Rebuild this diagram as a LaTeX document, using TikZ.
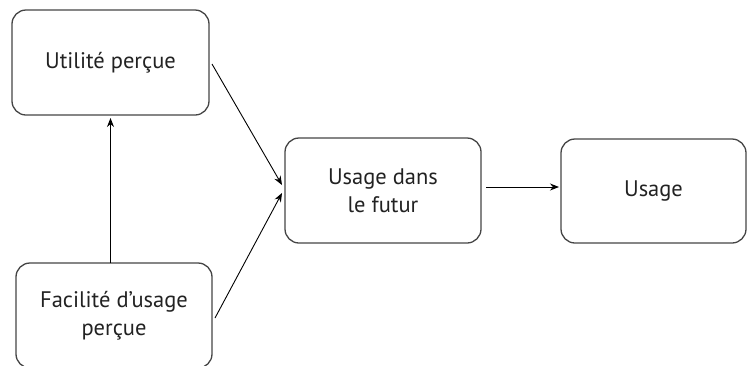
\documentclass[tikz,border=0pt]{standalone}
\usepackage{fontspec}
\setmainfont{PT Sans}
\usetikzlibrary{arrows.meta}
\definecolor{boxline}{HTML}{454545}
\definecolor{txt}{HTML}{222222}
\begin{document}
\begin{tikzpicture}[x=1pt,y=-1pt,
  box/.style={draw=boxline, line width=1.3pt, rounded corners=14pt,
    inner sep=0pt, outer sep=0pt, align=center, text=txt,
    font=\fontsize{22.5}{28}\selectfont},
  link/.style={-{Stealth[length=9pt,width=7pt]}, line width=0.9pt, black}]
  \clip (0,0) rectangle (747,365);
  \useasboundingbox (0,0) rectangle (747,365);
  % the four constructs
  \node[box, minimum width=197pt, minimum height=105pt] (util) at (110.5,62.5) {Utilité perçue};
  \node[box, minimum width=196pt, minimum height=105pt] (facil) at (114,315.5) {Facilité d’usage\\perçue};
  \node[box, minimum width=196pt, minimum height=105pt] (futur) at (383,190.5) {Usage dans\\le futur};
  \node[box, minimum width=185pt, minimum height=104pt] (usage) at (653.5,191) {Usage};
  % causal links
  \draw[link] ([xshift=3pt,yshift=-1.5pt]util.east) -- ([xshift=-3pt,yshift=5.5pt]futur.west);
  \draw[link] ([xshift=3pt,yshift=-2.5pt]facil.east) -- ([xshift=-3pt,yshift=-2.5pt]futur.west);
  \draw[link] (util.south |- facil.north) -- ([yshift=-3pt]util.south);
  \draw[link] ([xshift=5pt,yshift=3.5pt]futur.east) -- ([xshift=-2pt,yshift=3.5pt]futur.east -| usage.west);
\end{tikzpicture}
\end{document}
